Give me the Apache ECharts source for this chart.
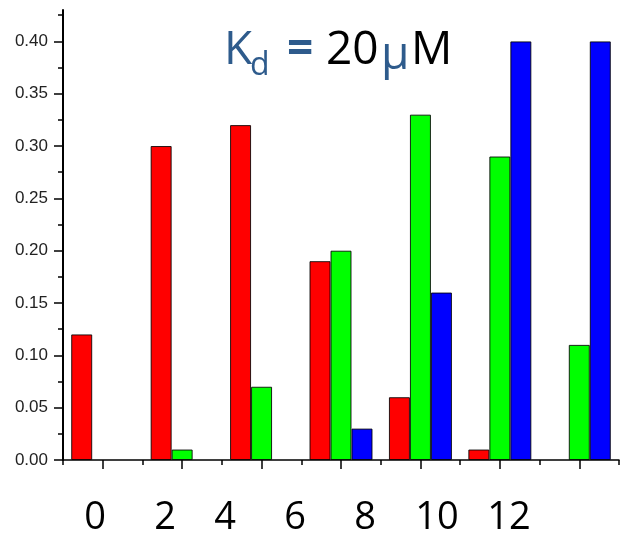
<!DOCTYPE html>
<html><head><meta charset="utf-8">
<script src="https://cdn.jsdelivr.net/npm/echarts@6/dist/echarts.min.js"></script>
<style>html,body{margin:0;padding:0;background:#fff}#c{width:621px;height:535px}</style>
</head><body><div id="c"></div>
<script>
// ---- data ----
const categories = ['0', '2', '4', '6', '8', '10', '12'];
const redValues = [0.12, 0.30, 0.32, 0.19, 0.06, 0.01, null];
const greenValues = [null, 0.01, 0.07, 0.20, 0.33, 0.29, 0.11];
const blueValues = [null, null, null, 0.03, 0.16, 0.40, 0.40];
const yTickValues = [0, 0.05, 0.10, 0.15, 0.20, 0.25, 0.30, 0.35, 0.40];
const yMinorTickValues = [0.025, 0.075, 0.125, 0.175, 0.225, 0.275, 0.325, 0.375, 0.425];
const xLabelTexts = ['0', '2', '4', '6', '8', '10', '12'];

// ---- layout (not data) ----
const xLabelCenters = [95, 165, 225, 295, 365, 437, 509];
const blue = '#2E5B8C';

const chart = echarts.init(document.getElementById('c'), null, {renderer: 'canvas'});

const graphics = xLabelTexts.map((t, i) => ({
  type: 'text', x: xLabelCenters[i], y: 518,
  style: {text: t, fill: '#000', font: '38px "Open Sans"', align: 'center', verticalAlign: 'middle'}
}));
const titleParts = [
  {t: 'K', x: 224, y: 51, size: 46, c: blue},
  {t: 'd', x: 250, y: 66, size: 32, c: blue},
  {t: '=', x: 287, y: 51, size: 46, c: blue, w: 'bold'},
  {t: '20', x: 326, y: 51, size: 46, c: '#000'},
  {t: '\u03bc', x: 381, y: 56, size: 46, c: blue},
  {t: 'M', x: 411, y: 51, size: 46, c: '#000'}
];
titleParts.forEach(p => graphics.push({
  type: 'text', x: p.x, y: p.y,
  style: {text: p.t, fill: p.c, font: (p.w ? p.w + ' ' : '') + p.size + 'px "Open Sans"', align: 'left', verticalAlign: 'middle'}
}));

const barBorder = {borderColor: 'rgba(0,0,0,0.85)', borderWidth: 1};

chart.setOption({
  animation: false,
  grid: {left: 63, right: 2, top: 10, bottom: 75, containLabel: false},
  xAxis: [{
    type: 'category', data: categories, boundaryGap: true,
    axisLine: {lineStyle: {color: '#000', width: 1.5}},
    axisTick: {show: true, length: 5, lineStyle: {color: '#000', width: 1.5}},
    axisLabel: {show: false}, splitLine: {show: false}
  }, {
    type: 'category', data: categories, boundaryGap: true, position: 'bottom',
    axisLine: {show: false},
    axisTick: {show: true, alignWithLabel: true, length: 9, lineStyle: {color: '#000', width: 1.5}},
    axisLabel: {show: false}, splitLine: {show: false}
  }],
  yAxis: [{
    type: 'value', min: 0, max: 0.43, position: 'left',
    axisLine: {show: true, lineStyle: {color: '#000', width: 2}},
    axisTick: {show: true, customValues: yTickValues, length: 9, lineStyle: {color: '#000', width: 1.5}},
    axisLabel: {customValues: yTickValues, formatter: v => v.toFixed(2), margin: 15,
      color: '#222', fontSize: 17, fontFamily: 'Liberation Sans, Arial, sans-serif'},
    splitLine: {show: false}
  }, {
    type: 'value', min: 0, max: 0.43, position: 'left', offset: 0,
    axisLine: {show: false},
    axisTick: {show: true, customValues: yMinorTickValues, length: 5, lineStyle: {color: '#000', width: 1.5}},
    axisLabel: {show: false}, splitLine: {show: false}
  }],
  series: [
    {type: 'bar', data: redValues, barWidth: 21, barGap: '0%', itemStyle: Object.assign({color: '#FF0000'}, barBorder)},
    {type: 'bar', data: greenValues, barWidth: 21, barGap: '0%', itemStyle: Object.assign({color: '#00FF00'}, barBorder)},
    {type: 'bar', data: blueValues, barWidth: 21, barGap: '0%', itemStyle: Object.assign({color: '#0000FF'}, barBorder)}
  ],
  graphic: graphics
});
</script></body></html>
